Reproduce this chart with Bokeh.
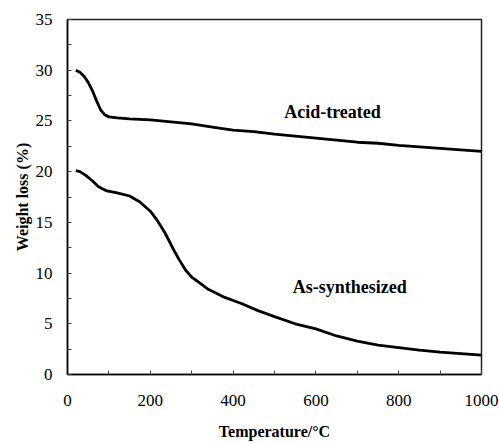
from bokeh.plotting import figure
from bokeh.models import FixedTicker, Range1d, ColumnDataSource
from bokeh.core.properties import value
from bokeh.embed import file_html
from bokeh.resources import INLINE

# TGA curves: temperature (degC) vs weight loss (%)
acid_temp = [20, 30, 40, 50, 60, 70, 80, 90, 100, 120, 150, 200, 250, 300, 350,
             400, 450, 500, 550, 600, 650, 700, 750, 800, 850, 900, 950, 1000]
acid_loss = [30.0, 29.8, 29.4, 28.8, 28.0, 27.0, 26.1, 25.6, 25.4, 25.3, 25.2, 25.1,
             24.9, 24.7, 24.4, 24.1, 23.95, 23.7, 23.5, 23.3, 23.1, 22.9, 22.8, 22.6,
             22.45, 22.3, 22.15, 22.0]

syn_temp = [20, 30, 45, 60, 75, 95, 120, 150, 175, 200, 215, 235, 255, 270, 285,
            300, 320, 340, 380, 420, 460, 500, 550, 600, 650, 700, 750, 800, 850,
            900, 950, 1000]
syn_loss = [20.1, 20.0, 19.6, 19.1, 18.5, 18.1, 17.9, 17.6, 17.0, 16.1, 15.3, 14.0,
            12.4, 11.3, 10.3, 9.6, 9.0, 8.4, 7.6, 7.0, 6.3, 5.7, 5.0, 4.5, 3.8, 3.3,
            2.9, 2.65, 2.4, 2.2, 2.05, 1.9]

x_major = [0, 200, 400, 600, 800, 1000]
x_minor = [100, 300, 500, 700, 900]
y_major = [0, 5, 10, 15, 20, 25, 30, 35]
y_minor = [2.5, 7.5, 12.5, 17.5, 22.5, 27.5, 32.5]

labels_text = ["Acid-treated", "As-synthesized"]
labels_x = [640, 682]
labels_y = [25.9, 8.6]

SERIF = "'Liberation Serif', 'Times New Roman', serif"

p = figure(width=499, height=443, output_backend="svg", toolbar_location=None,
           x_range=Range1d(0, 1000), y_range=Range1d(0, 35))
p.min_border_left = 67
p.min_border_right = 18
p.min_border_top = 19
p.min_border_bottom = 69
p.background_fill_color = "white"
p.border_fill_color = "white"
p.grid.visible = False
p.outline_line_color = "#222222"
p.outline_line_width = 1.5

p.xaxis.ticker = FixedTicker(ticks=x_major, minor_ticks=x_minor)
p.yaxis.ticker = FixedTicker(ticks=y_major, minor_ticks=y_minor)

for ax in (p.xaxis[0], p.yaxis[0]):
    ax.axis_line_color = "black"
    ax.axis_line_width = 1.5
    ax.major_tick_in = 4
    ax.major_tick_out = 0
    ax.minor_tick_in = 4
    ax.minor_tick_out = 0
    ax.major_tick_line_color = "#444444"
    ax.minor_tick_line_color = "#444444"
    ax.major_label_text_font = SERIF
    ax.major_label_text_font_size = "17px"
    ax.major_label_text_color = "black"
    ax.axis_label_text_font = SERIF
    ax.axis_label_text_font_style = "bold"
    ax.axis_label_text_font_size = "16px"
    ax.axis_label_text_color = "black"

p.xaxis.axis_label = "Temperature/\u00b0C"
p.yaxis.axis_label = "Weight loss (%)"
p.xaxis.major_label_standoff = 20
p.yaxis.major_label_standoff = 15
p.xaxis.axis_label_standoff = 14
p.yaxis.axis_label_standoff = 2

p.line(acid_temp, acid_loss, line_color="black", line_width=2.8)
p.line(syn_temp, syn_loss, line_color="black", line_width=2.8)

src = ColumnDataSource(dict(x=labels_x, y=labels_y, t=labels_text))
p.text(x="x", y="y", text="t", source=src, text_font=value(SERIF),
       text_font_style="bold", text_font_size="18px", text_align="center",
       text_baseline="middle", text_color="black")

open("out.html", "w").write(file_html(p, INLINE))
